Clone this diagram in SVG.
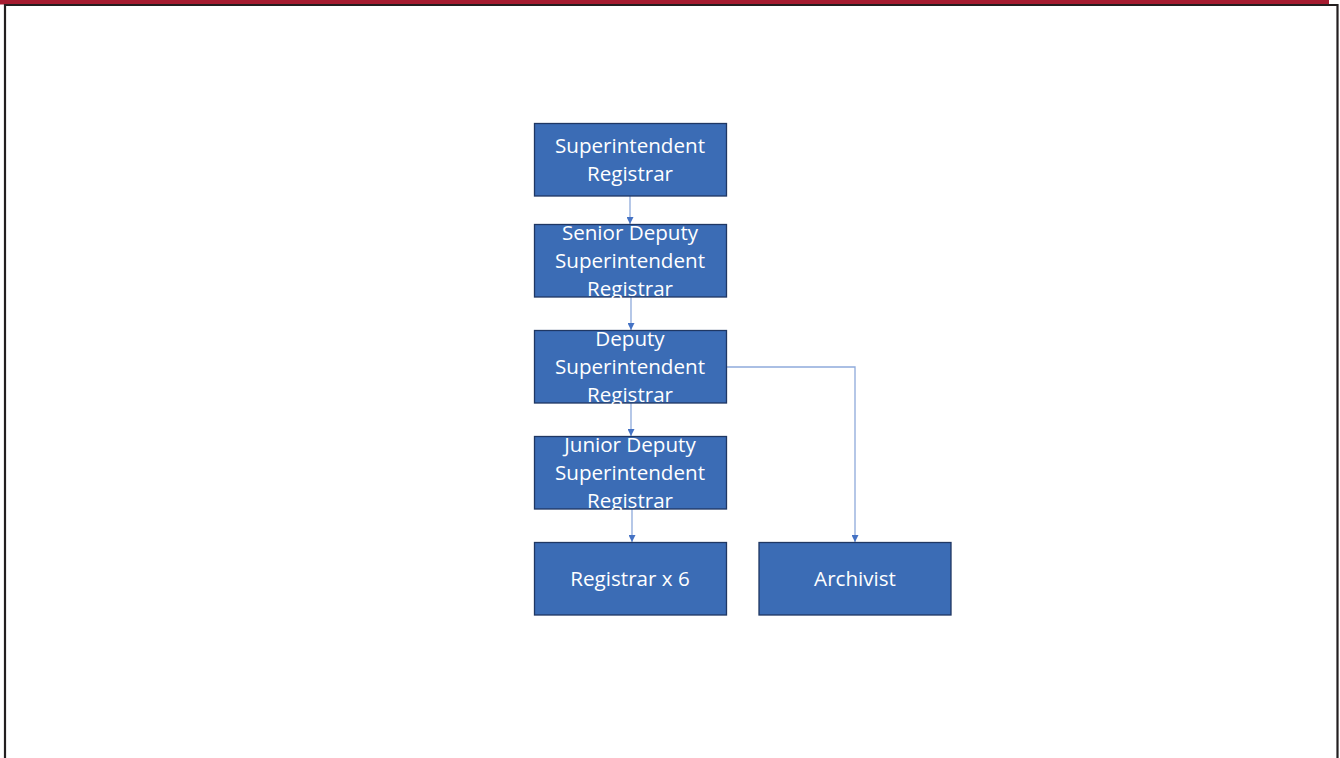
<svg xmlns="http://www.w3.org/2000/svg" width="1340" height="758" viewBox="0 0 1340 758">
<style>
.box{fill:#3b6cb5;stroke:#1f3763;stroke-width:1.3}
.lbl{font-family:"Open Sans","Liberation Sans",sans-serif;font-size:20.6px;fill:#ffffff;text-anchor:middle;dominant-baseline:central}
.conn{fill:none;stroke:#8eaadb;stroke-width:1.3}
</style>
<defs>
<marker id="arr" viewBox="0 0 10 10" refX="10" refY="5" markerWidth="7" markerHeight="7" markerUnits="userSpaceOnUse" orient="auto">
<path d="M0,0 L10,5 L0,10 z" fill="#4472c4"/>
</marker>
</defs>
<rect x="0" y="0" width="1340" height="758" fill="#ffffff"/>
<rect x="0" y="0" width="1329" height="4.5" fill="#a51c30"/>
<path d="M5,758 V5 H1337.5 V758" fill="none" stroke="#231f20" stroke-width="2.2"/>
<g id="connectors">
<path class="conn" d="M630,196 V224" marker-end="url(#arr)"/>
<path class="conn" d="M631,297 V330" marker-end="url(#arr)"/>
<path class="conn" d="M631,403 V436" marker-end="url(#arr)"/>
<path class="conn" d="M632,509 V542" marker-end="url(#arr)"/>
<path class="conn" d="M726,367 H855 V542" marker-end="url(#arr)"/>
</g>
<g id="n1"><rect class="box" x="534.5" y="123.5" width="192" height="72.5"/>
<text class="lbl" x="630" y="145">Superintendent</text><text class="lbl" x="630" y="173">Registrar</text></g>
<g id="n2"><rect class="box" x="534.5" y="224.5" width="192" height="72.5"/>
<text class="lbl" x="630" y="232">Senior Deputy</text><text class="lbl" x="630" y="260">Superintendent</text><text class="lbl" x="630" y="288">Registrar</text></g>
<g id="n3"><rect class="box" x="534.5" y="330.5" width="192" height="72.5"/>
<text class="lbl" x="630" y="338">Deputy</text><text class="lbl" x="630" y="366">Superintendent</text><text class="lbl" x="630" y="394">Registrar</text></g>
<g id="n4"><rect class="box" x="534.5" y="436.5" width="192" height="72.5"/>
<text class="lbl" x="630" y="444">Junior Deputy</text><text class="lbl" x="630" y="472">Superintendent</text><text class="lbl" x="630" y="500">Registrar</text></g>
<g id="n5"><rect class="box" x="534.5" y="542.5" width="192" height="72.5"/>
<text class="lbl" x="630" y="578">Registrar x 6</text></g>
<g id="n6"><rect class="box" x="759" y="542.5" width="192" height="72.5"/>
<text class="lbl" x="855" y="578">Archivist</text></g>
</svg>
